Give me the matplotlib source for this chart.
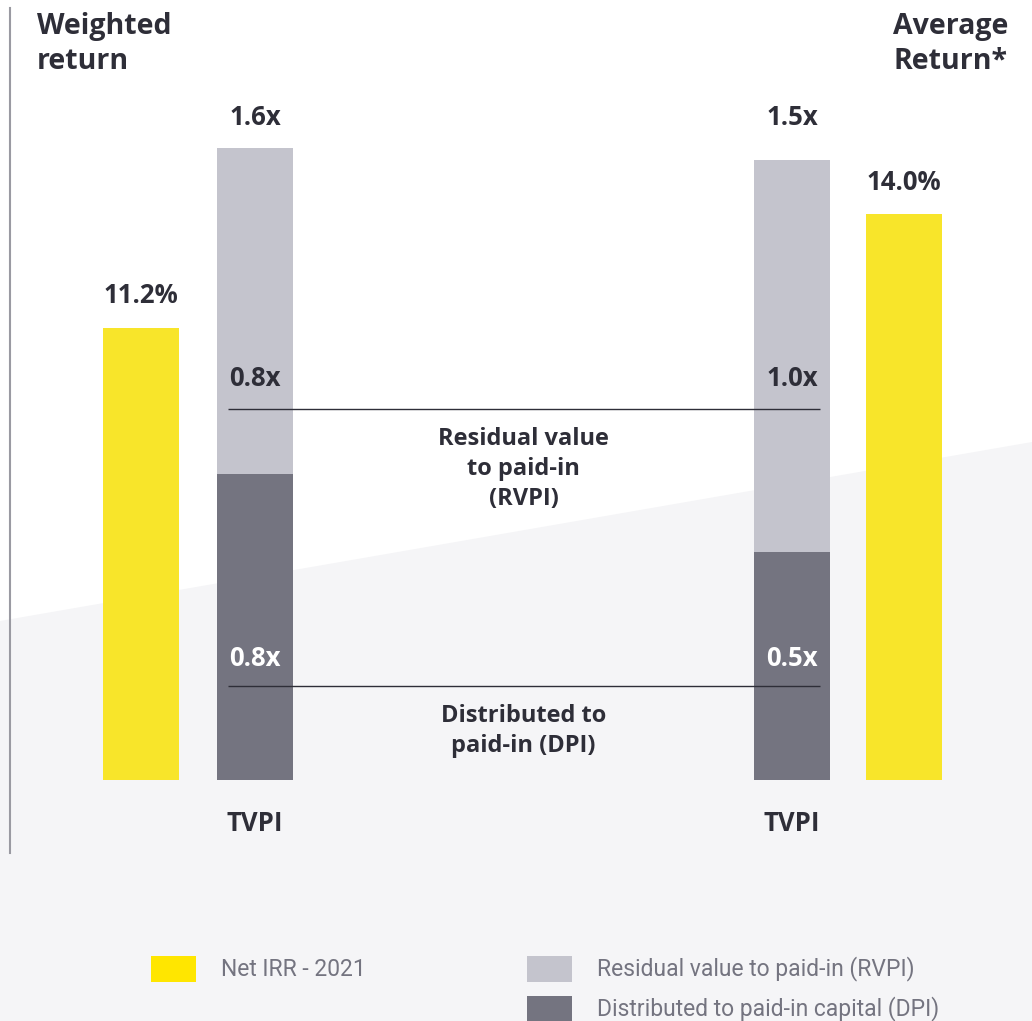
import matplotlib
matplotlib.use("Agg")
import matplotlib.pyplot as plt
from matplotlib.patches import Polygon, Rectangle
from matplotlib.lines import Line2D

# ---------------- data ----------------
irr_labels = ["11.2%", "14.0%"]
irr_values = [11.2, 14.0]              # Net IRR 2021 (%)
dpi_values = [0.765, 0.57]             # distributed to paid-in (x)
rvpi_values = [0.815, 0.98]            # residual value to paid-in (x)
dpi_labels = ["0.8x", "0.5x"]
rvpi_labels = ["0.8x", "1.0x"]
tvpi_labels = ["1.6x", "1.5x"]
group_titles = ["Weighted\nreturn", "Average\nReturn*"]
legend_labels = ["Net IRR - 2021", "Residual value to paid-in (RVPI)",
                 "Distributed to paid-in capital (DPI)"]

YELLOW = "#F8E52A"
LEGEND_YELLOW = "#FFE600"
LIGHT = "#C4C4CD"
DARK = "#747480"
TEXT = "#2E2E38"
BG = "#F5F5F7"

plt.rcParams['font.family'] = ['Open Sans', 'DejaVu Sans']

W, H = 1032, 1021
fig = plt.figure(figsize=(W / 100, H / 100), dpi=100)
fig.patch.set_facecolor("white")

def fx(px):
    return px / W

def fy(py):
    return 1 - py / H

# light grey diagonal backdrop
fig.patches.append(Polygon([(0, fy(621)), (1, fy(442)), (1, 0), (0, 0)],
                           closed=True, transform=fig.transFigure,
                           facecolor=BG, edgecolor="none", zorder=-5))
# thin vertical rule on the left
fig.lines.append(Line2D([fx(10), fx(10)], [fy(8), fy(853)], transform=fig.transFigure,
                        color="#9a9aa2", linewidth=1.5))

# axes over whole figure: 1 x-unit = 114 px, baseline at y=780 px
ax = fig.add_axes([0, 0, 1, 1])
ax.patch.set_alpha(0)
unit = 114.0
x0 = 141.0
ax.set_xlim(-x0 / unit, (W - x0) / unit)
px_per_x = 400.0
base = H - 780
ax.set_ylim(-base / px_per_x, (H - base) / px_per_x)
ax.axis("off")

ax2 = ax.twinx()
px_per_pct = 40.4
ax2.set_ylim(-base / px_per_pct, (H - base) / px_per_pct)
ax2.axis("off")

bw = 76 / unit
irr_pos = [0, (904 - x0) / unit]
tvpi_pos = [1, (792 - x0) / unit]

ax2.bar(irr_pos, irr_values, width=bw, color=YELLOW, zorder=2)
ax.bar(tvpi_pos, dpi_values, width=bw, color=DARK, zorder=2)
ax.bar(tvpi_pos, rvpi_values, width=bw, bottom=dpi_values, color=LIGHT, zorder=2)

bold = dict(fontweight="bold", color=TEXT)
vsize = 18.5

for p, v, lab in zip(irr_pos, irr_values, irr_labels):
    ax2.annotate(lab, (p, v), xytext=(0, 13), textcoords="offset points",
                 ha="center", va="bottom", fontsize=vsize, **bold)

for i, p in enumerate(tvpi_pos):
    ax.text(p, 0.8854, tvpi_labels[i], transform=ax.get_xaxis_transform(),
            ha="center", va="center", fontsize=vsize, **bold)
    ax.text(p, (780 - 378) / px_per_x, rvpi_labels[i], ha="center", va="center",
            fontsize=vsize, **bold)
    ax.text(p, (780 - 658) / px_per_x, dpi_labels[i], ha="center", va="center",
            fontsize=vsize, fontweight="bold", color="white")
    ax.text(p, -(823 - 780) / px_per_x, "TVPI", ha="center", va="center",
            fontsize=vsize, **bold)

# bracket lines across the two TVPI bars
lx0 = tvpi_pos[0] - (255 - 228) / unit
lx1 = tvpi_pos[1] + (820 - 792) / unit
ax.hlines([(780 - 409) / px_per_x, (780 - 686) / px_per_x], lx0, lx1,
          color=TEXT, linewidth=1, zorder=3)

mid = (tvpi_pos[0] + tvpi_pos[1]) / 2
ax.text(mid, (780 - 469) / px_per_x, "Residual value\nto paid-in\n(RVPI)",
        ha="center", va="center", fontsize=17, linespacing=1.35, **bold)
ax.text(mid, (780 - 731) / px_per_x, "Distributed to\npaid-in (DPI)",
        ha="center", va="center", fontsize=17, linespacing=1.35, **bold)

# corner titles
fig.text(fx(37), fy(44), group_titles[0], ha="left", va="center", fontsize=20.5,
         linespacing=1.3, **bold)
fig.text(fx(1008), fy(44), group_titles[1], ha="right", va="center", fontsize=20.5,
         linespacing=1.3, **bold)

# legend drawn by hand
swatches = [(151, 956, LEGEND_YELLOW), (527, 956, LIGHT), (527, 996, DARK)]
for (sx, sy, c), lab in zip(swatches, legend_labels):
    fig.patches.append(Rectangle((fx(sx), fy(sy + 26)), fx(45), 26 / H,
                                 transform=fig.transFigure, facecolor=c,
                                 edgecolor="none", zorder=1))
    fig.text(fx(sx + 70), fy(sy + 13), lab, ha="left", va="center",
             fontsize=16.5, color=DARK, family="Roboto")

fig.savefig("out.png", dpi=100)
